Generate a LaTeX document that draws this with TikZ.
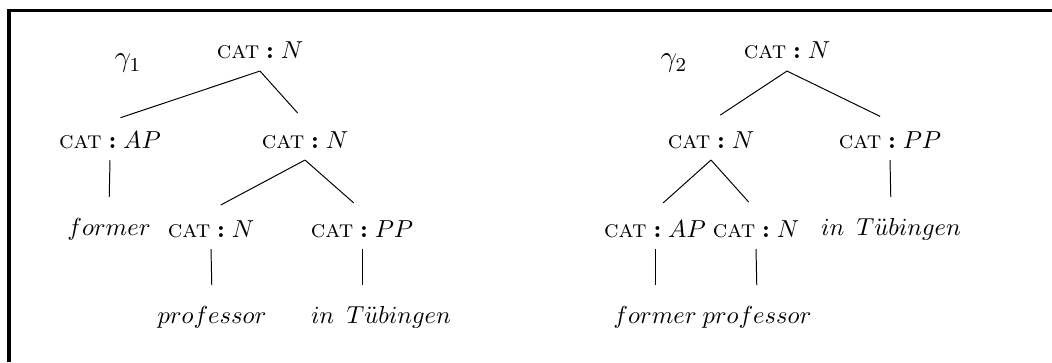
\documentclass[tikz,border=0pt]{standalone}
\usepackage{amsmath}
\usepackage{tikz}
\tikzset{
  lbl/.style={anchor=base,inner sep=3.7pt,text height=7pt,text depth=1pt},
  catnode/.style={lbl},
  leaf/.style={lbl},
  reading/.style={anchor=base,font=\large},
  branch/.style={thin,shorten >=4.5pt},
  frameline/.style={line width=1.3pt}
}
\newcommand{\Cat}[1]{$\text{\scshape cat}\mathrel{\text{\bfseries :}}#1$}
\newcommand{\Tueb}{$in\ \,T\ddot{u}bingen$}

\begin{document}
\begin{tikzpicture}[x=0.01429cm,y=-0.01429cm]
  \useasboundingbox (0,0) rectangle (1052,362);
  \draw[frameline] (9,362) -- (9,10.5) -- (1052,10.5);

  % first reading
  \node[reading] (g1) at (128,67) {$\gamma_1$};
  \node[catnode] (r1) at (260,59) {\Cat{N}};
  \node[catnode] (ap1) at (110,148) {\Cat{AP}};
  \node[catnode] (n1) at (305,148) {\Cat{N}};
  \node[leaf] (fo1) at (109,235) {$former$};
  \node[catnode] (nn1) at (211,237) {\Cat{N}};
  \node[catnode] (pp1) at (362,237) {\Cat{PP}};
  \node[leaf] (pr1) at (212,323) {$professor$};
  \node[leaf] (tu1) at (381,323) {\Tueb};

  \draw[branch] (r1.south) -- (ap1.north);
  \draw[branch] (r1.south) -- (n1.north);
  \draw[branch] (ap1.south) -- (fo1.north);
  \draw[branch] (n1.south) -- (nn1.north);
  \draw[branch] (n1.south) -- (pp1.north);
  \draw[branch] (nn1.south) -- (pr1.north);
  \draw[branch] (pp1.south) -- (pp1.south |- tu1.north);

  % second reading
  \node[reading] (g2) at (674,67) {$\gamma_2$};
  \node[catnode] (r2) at (787,59) {\Cat{N}};
  \node[catnode] (n2) at (711,148) {\Cat{N}};
  \node[catnode] (pp2) at (890,148) {\Cat{PP}};
  \node[catnode] (ap2) at (655,237) {\Cat{AP}};
  \node[catnode] (nn2) at (756,237) {\Cat{N}};
  \node[leaf] (tu2) at (891,235) {\Tueb};
  \node[leaf] (fo2) at (655,323) {$former$};
  \node[leaf] (pr2) at (757,323) {$professor$};

  \draw[branch] (r2.south) -- (n2.north);
  \draw[branch] (r2.south) -- (pp2.north);
  \draw[branch] (n2.south) -- (ap2.north);
  \draw[branch] (n2.south) -- (nn2.north);
  \draw[branch] (pp2.south) -- (tu2.north);
  \draw[branch] (ap2.south) -- (fo2.north);
  \draw[branch] (nn2.south) -- (pr2.north);
\end{tikzpicture}
\end{document}
